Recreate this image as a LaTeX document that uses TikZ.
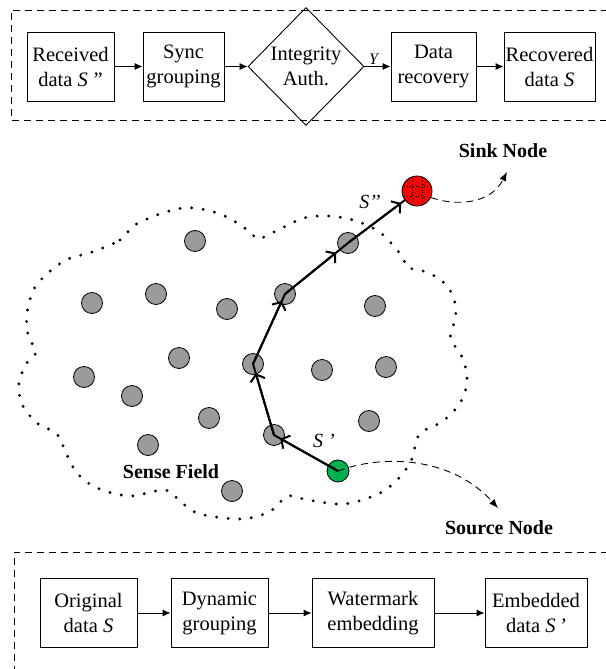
\documentclass[tikz,border=0pt]{standalone}
\usepackage{fontspec}
\setmainfont{Liberation Serif}
\usetikzlibrary{arrows.meta,shapes.geometric,calc}
\definecolor{nodegray}{RGB}{155,155,155}
\definecolor{srcgreen}{RGB}{0,176,80}
\begin{document}
\begin{tikzpicture}[x=1pt,y=-1pt,
  box/.style={draw,line width=0.9pt,minimum width=#1,minimum height=69pt,inner sep=0pt,align=center,font=\fontsize{20.5}{25}\selectfont},
  flow/.style={line width=0.9pt,-{Latex[length=8pt,width=7pt]}},
  frame/.style={line width=0.9pt,dash pattern=on 7pt off 5pt},
  sensor/.style={circle,draw,line width=0.8pt,fill=nodegray,minimum size=21pt,inner sep=0pt},
  route/.style={line width=2pt},
  barb/.style={line width=2pt,-{Straight Barb[length=6pt,width=15pt,line width=2pt]}},
  sweep/.style={line width=0.9pt,dash pattern=on 7pt off 5pt,-{Latex[length=9pt,width=7pt]}},
  title/.style={font=\fontsize{20}{24}\selectfont\bfseries},
  lbl/.style={font=\fontsize{20}{22}\selectfont\itshape}]
\useasboundingbox (0,0) rectangle (605,669);

% ---------- top frame ----------
\draw[frame] (620,10) -- (11,10) -- (11,120) -- (620,120);
\node[box=87pt] (recv) at (70.5,66.5) {Received\\data \textit{S\,”}};
\node[box=81pt] (sync) at (183.5,66.5) {Sync\\grouping};
\node[diamond,draw,line width=0.9pt,minimum width=116pt,minimum height=118pt,inner sep=0pt,align=center,font=\fontsize{20.5}{25}\selectfont] (auth) at (306,66.5) {Integrity\\Auth.};
\node[box=85pt] (drec) at (433.5,66.5) {Data\\recovery};
\node[box=91pt] (recov) at (549.5,66.5) {Recovered\\data \textit{S}};
\draw[flow] (recv) -- (sync);
\draw[flow] (sync) -- (auth);
\draw[flow] (auth) -- node[above,pos=0.35,font=\fontsize{16}{18}\selectfont\itshape,inner sep=2pt] {Y} (drec);
\draw[flow] (drec) -- (recov);

% ---------- sense field boundary ----------
\draw[line width=3.2pt,dash pattern=on 0pt off 11.6pt,line cap=round]
 plot[smooth cycle,tension=0.55] coordinates {
 (92,252) (120,240) (138,223) (183,208) (220,214) (249,231) (258,239) (276,231)
 (308,217) (345,218) (378,231) (402,256) (407,267) (429,273) (448,287) (456,309)
 (452,331) (451,340) (463,359) (467,382) (460,403) (443,421) (423,431) (417,439)
 (411,461) (397,480) (378,494) (344,504) (308,500) (288,496) (269,512) (240,519)
 (200,514) (182,503) (165,490) (130,496) (97,488) (77,473) (66,453) (57,434)
 (37,423) (22,404) (19,382) (28,361) (36,352) (28,335) (27,313) (34,289)
 (49,272) (68,259)};

% ---------- sensors ----------
\foreach \n/\x/\y in {1/195/241,2/156/294,3/92/303,4/227/309,5/375/306,6/285/294,
  7/348/243,8/179/358,9/253/364,10/84/377,11/132/396,12/322/370,13/386/367,
  14/209/418,15/148/445,16/369/421,17/274/435,18/232/491}
  \node[sensor] (n\n) at (\x,\y) {};

\node[circle,draw,line width=0.8pt,fill=srcgreen,minimum size=22pt,inner sep=0pt] (src) at (338,471) {};
\node[circle,draw,line width=0.8pt,fill=red,minimum size=30pt,inner sep=0pt] (sink) at (417,191) {};
\begin{scope}
  \clip (sink.center) circle (14.5pt);
  \foreach \d in {-5,5} {
    \draw[line width=0.9pt,dotted] ($(sink.center)+(-16,\d)$) -- ($(sink.center)+(16,\d)$);
    \draw[line width=0.9pt,dotted] ($(sink.center)+(\d,-16)$) -- ($(sink.center)+(\d,16)$);
  }
  \draw[line width=0.9pt,dotted] ($(sink.center)+(-12,-12)$) -- ($(sink.center)+(12,12)$);
  \draw[line width=0.9pt,dotted] ($(sink.center)+(-12,12)$) -- ($(sink.center)+(12,-12)$);
\end{scope}

% ---------- route ----------
\draw[route] (src.center) -- (n17.center) -- (n9.center) -- (n6.center) -- (n7.center) -- (sink);
\draw[barb] (src.center) -- ($(src.center)!0.9!(n17.center)$);
\draw[barb] (n17.center) -- ($(n17.center)!0.87!(n9.center)$);
\draw[barb] (n9.center) -- ($(n9.center)!0.9!(n6.center)$);
\draw[barb] (n6.center) -- ($(n6.center)!0.81!(n7.center)$);
\draw[barb] (n7.center) -- ($(n7.center)!0.77!(sink.center)$);

\node[lbl] (s2) at (370,202) {S’’};
\node[lbl] (s1) at (324,441) {S ’};

% ---------- dashed leaders ----------
\coordinate (sinkend) at (507,172);
\coordinate (srcend) at (498,508);
\draw[sweep] (sink.-25) .. controls (455,206) and (490,205) .. (sinkend);
\draw[sweep] (src.center) .. controls (380,455) and (450,455) .. (srcend);

\node[title] (sinklbl) at (503,151) {Sink Node};
\node[title] (srclbl) at (499,528) {Source Node};
\node[title] (field) at (171,472) {Sense Field};

% ---------- bottom frame ----------
\draw[frame] (620,552) -- (14,552) -- (14,680);
\node[box=97pt] (orig) at (88.5,613) {Original\\data \textit{S}};
\node[box=97pt] (dyn) at (219.5,613) {Dynamic\\grouping};
\node[box=122pt] (wm) at (373,613) {Watermark\\embedding};
\node[box=102pt] (emb) at (536,613) {Embedded\\data \textit{S\,’}};
\draw[flow] (orig) -- (dyn);
\draw[flow] (dyn) -- (wm);
\draw[flow] (wm) -- (emb);
\end{tikzpicture}
\end{document}
